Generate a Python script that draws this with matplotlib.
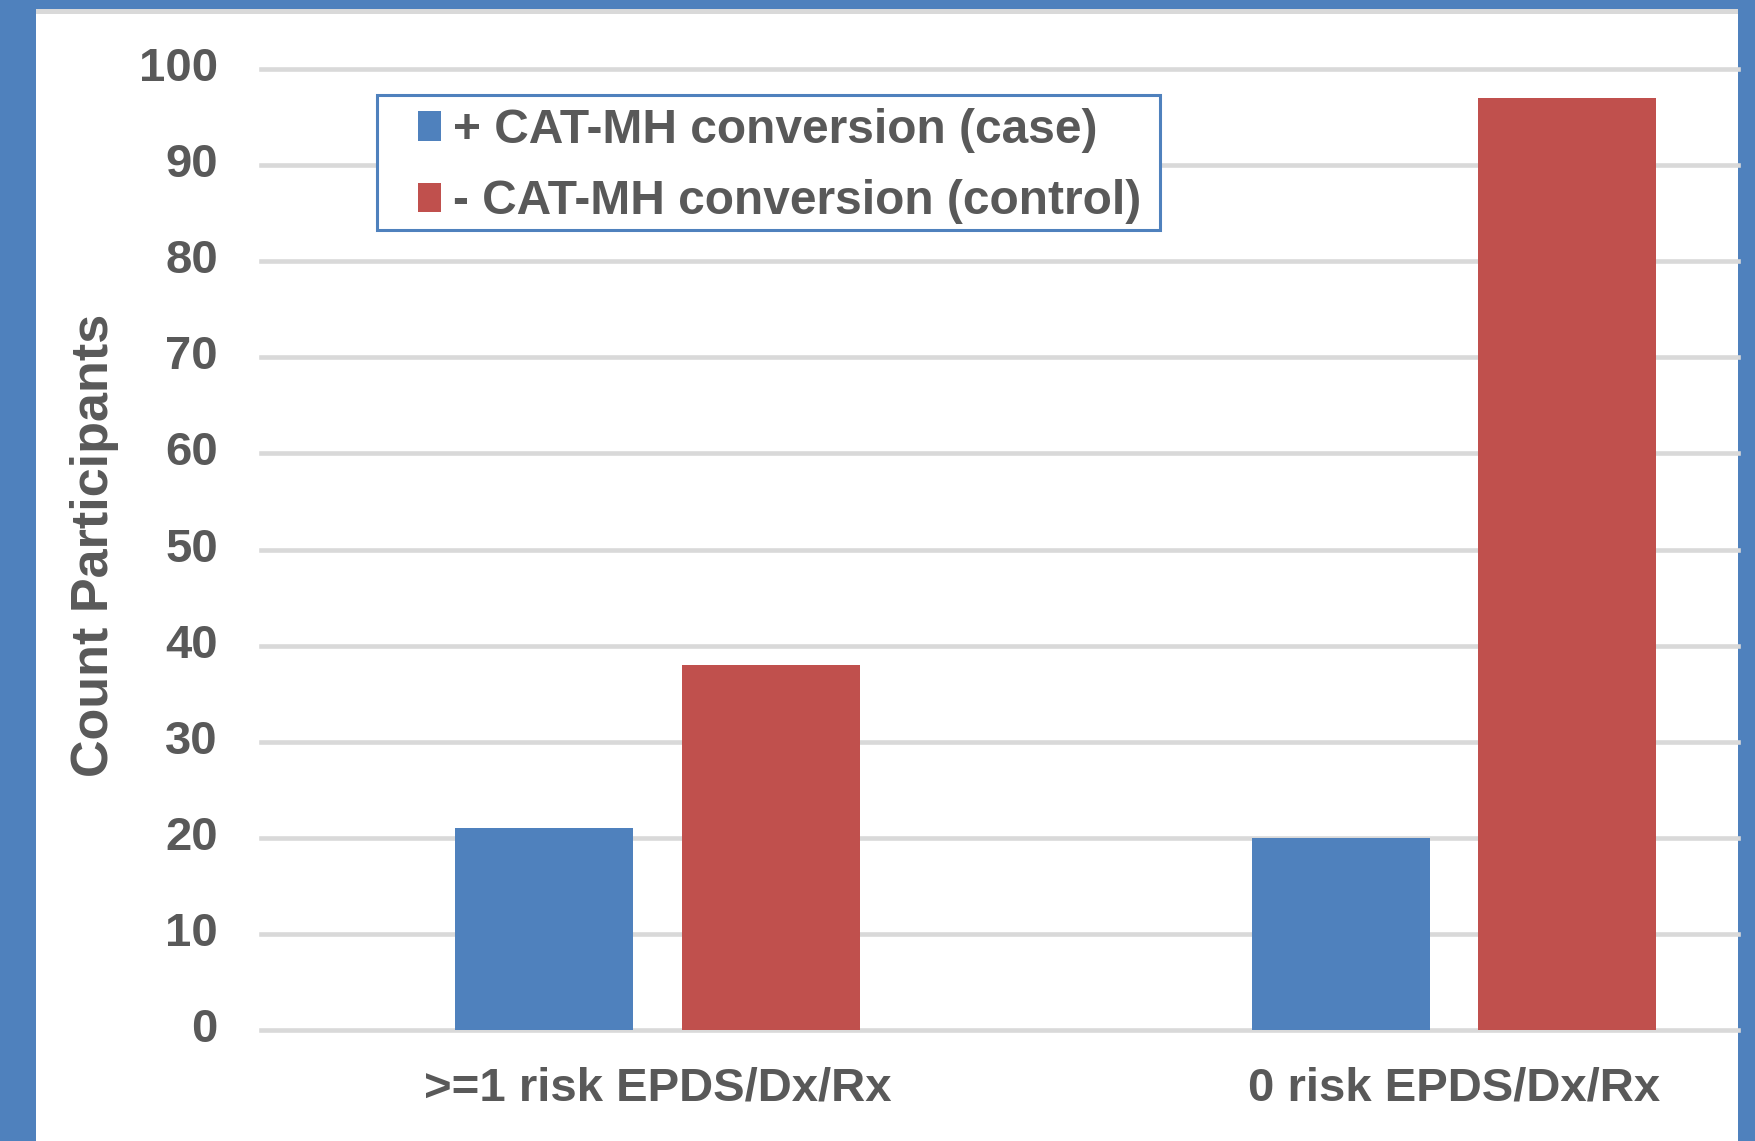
import matplotlib
matplotlib.use("Agg")
import matplotlib.pyplot as plt
from matplotlib.patches import Rectangle

# data
categories = [">=1 risk EPDS/Dx/Rx", "0 risk EPDS/Dx/Rx"]
case_counts = [21, 20]
control_counts = [38, 97]
series_labels = ["+ CAT-MH conversion (case)", "- CAT-MH conversion (control)"]
yticks = [0, 10, 20, 30, 40, 50, 60, 70, 80, 90, 100]

BLUE = "#4f81bd"
RED = "#c0504d"
GRID = "#d9d9d9"
TXT = "#595959"

plt.rcParams["font.family"] = ["Liberation Sans", "DejaVu Sans"]
plt.rcParams["font.weight"] = "bold"

W, H = 1756, 1141
fig = plt.figure(figsize=(W / 100, H / 100), dpi=100)
fig.patch.set_facecolor(BLUE)


def fx(px):
    return px / W


def fy(py):
    return 1 - py / H


# white chart area inside the blue frame, plus thin gray strip on top
fig.patches.append(Rectangle((fx(36), 0), fx(1738 - 36), fy(9), transform=fig.transFigure,
                             facecolor="white", edgecolor="none", zorder=-10))
fig.patches.append(Rectangle((fx(36), fy(14)), fx(1738 - 36), fy(9) - fy(14), transform=fig.transFigure,
                             facecolor=GRID, edgecolor="none", zorder=-9))

ax = fig.add_axes([fx(261), fy(1030), fx(1738 - 261), fy(69) - fy(1030)])
ax.set_facecolor("none")

x = list(range(len(categories)))
w = 0.2235
off = 0.142
b1 = ax.bar([i - off for i in x], case_counts, w, color=BLUE, label=series_labels[0], zorder=3)
b2 = ax.bar([i + off for i in x], control_counts, w, color=RED, label=series_labels[1], zorder=3)

for t in yticks:
    ax.axhline(t, color=GRID, lw=3.3, zorder=1, clip_on=False)

ax.set_xlim(-0.498, 1.357)
ax.set_ylim(0, 100)
for s in ax.spines.values():
    s.set_visible(False)

ax.set_yticks(yticks)
ax.set_yticklabels([str(t) for t in yticks], fontsize=34, color=TXT, fontweight="bold")
ax.set_xticks(x)
ax.set_xticklabels(categories, fontsize=34, color=TXT, fontweight="bold")
ax.tick_params(axis="y", length=0, pad=31)
ax.tick_params(axis="x", length=0, pad=26)
for lbl in ax.get_yticklabels():
    lbl.set_verticalalignment("center")

fig.text(fx(95), fy(545), "Count Participants", rotation=90, ha="center", va="center",
         fontsize=37.5, color=TXT, fontweight="bold")

# legend box
ax.add_patch(Rectangle((fx(377), fy(230)), fx(1160 - 377), fy(95) - fy(230),
                       transform=fig.transFigure, facecolor="white",
                       edgecolor=BLUE, lw=2.2, zorder=4, clip_on=False))
leg = ax.legend(handles=[b1, b2], loc="upper left",
                bbox_to_anchor=(fx(418), fy(108)), bbox_transform=fig.transFigure,
                frameon=False, borderpad=0, borderaxespad=0,
                handlelength=0.47, handleheight=0.58, handletextpad=0.26,
                labelspacing=0.55, prop={"size": 34.5, "weight": "bold"})
for t in leg.get_texts():
    t.set_color(TXT)
leg.set_zorder(5)

fig.savefig("out.png", dpi=100, facecolor=fig.get_facecolor())
